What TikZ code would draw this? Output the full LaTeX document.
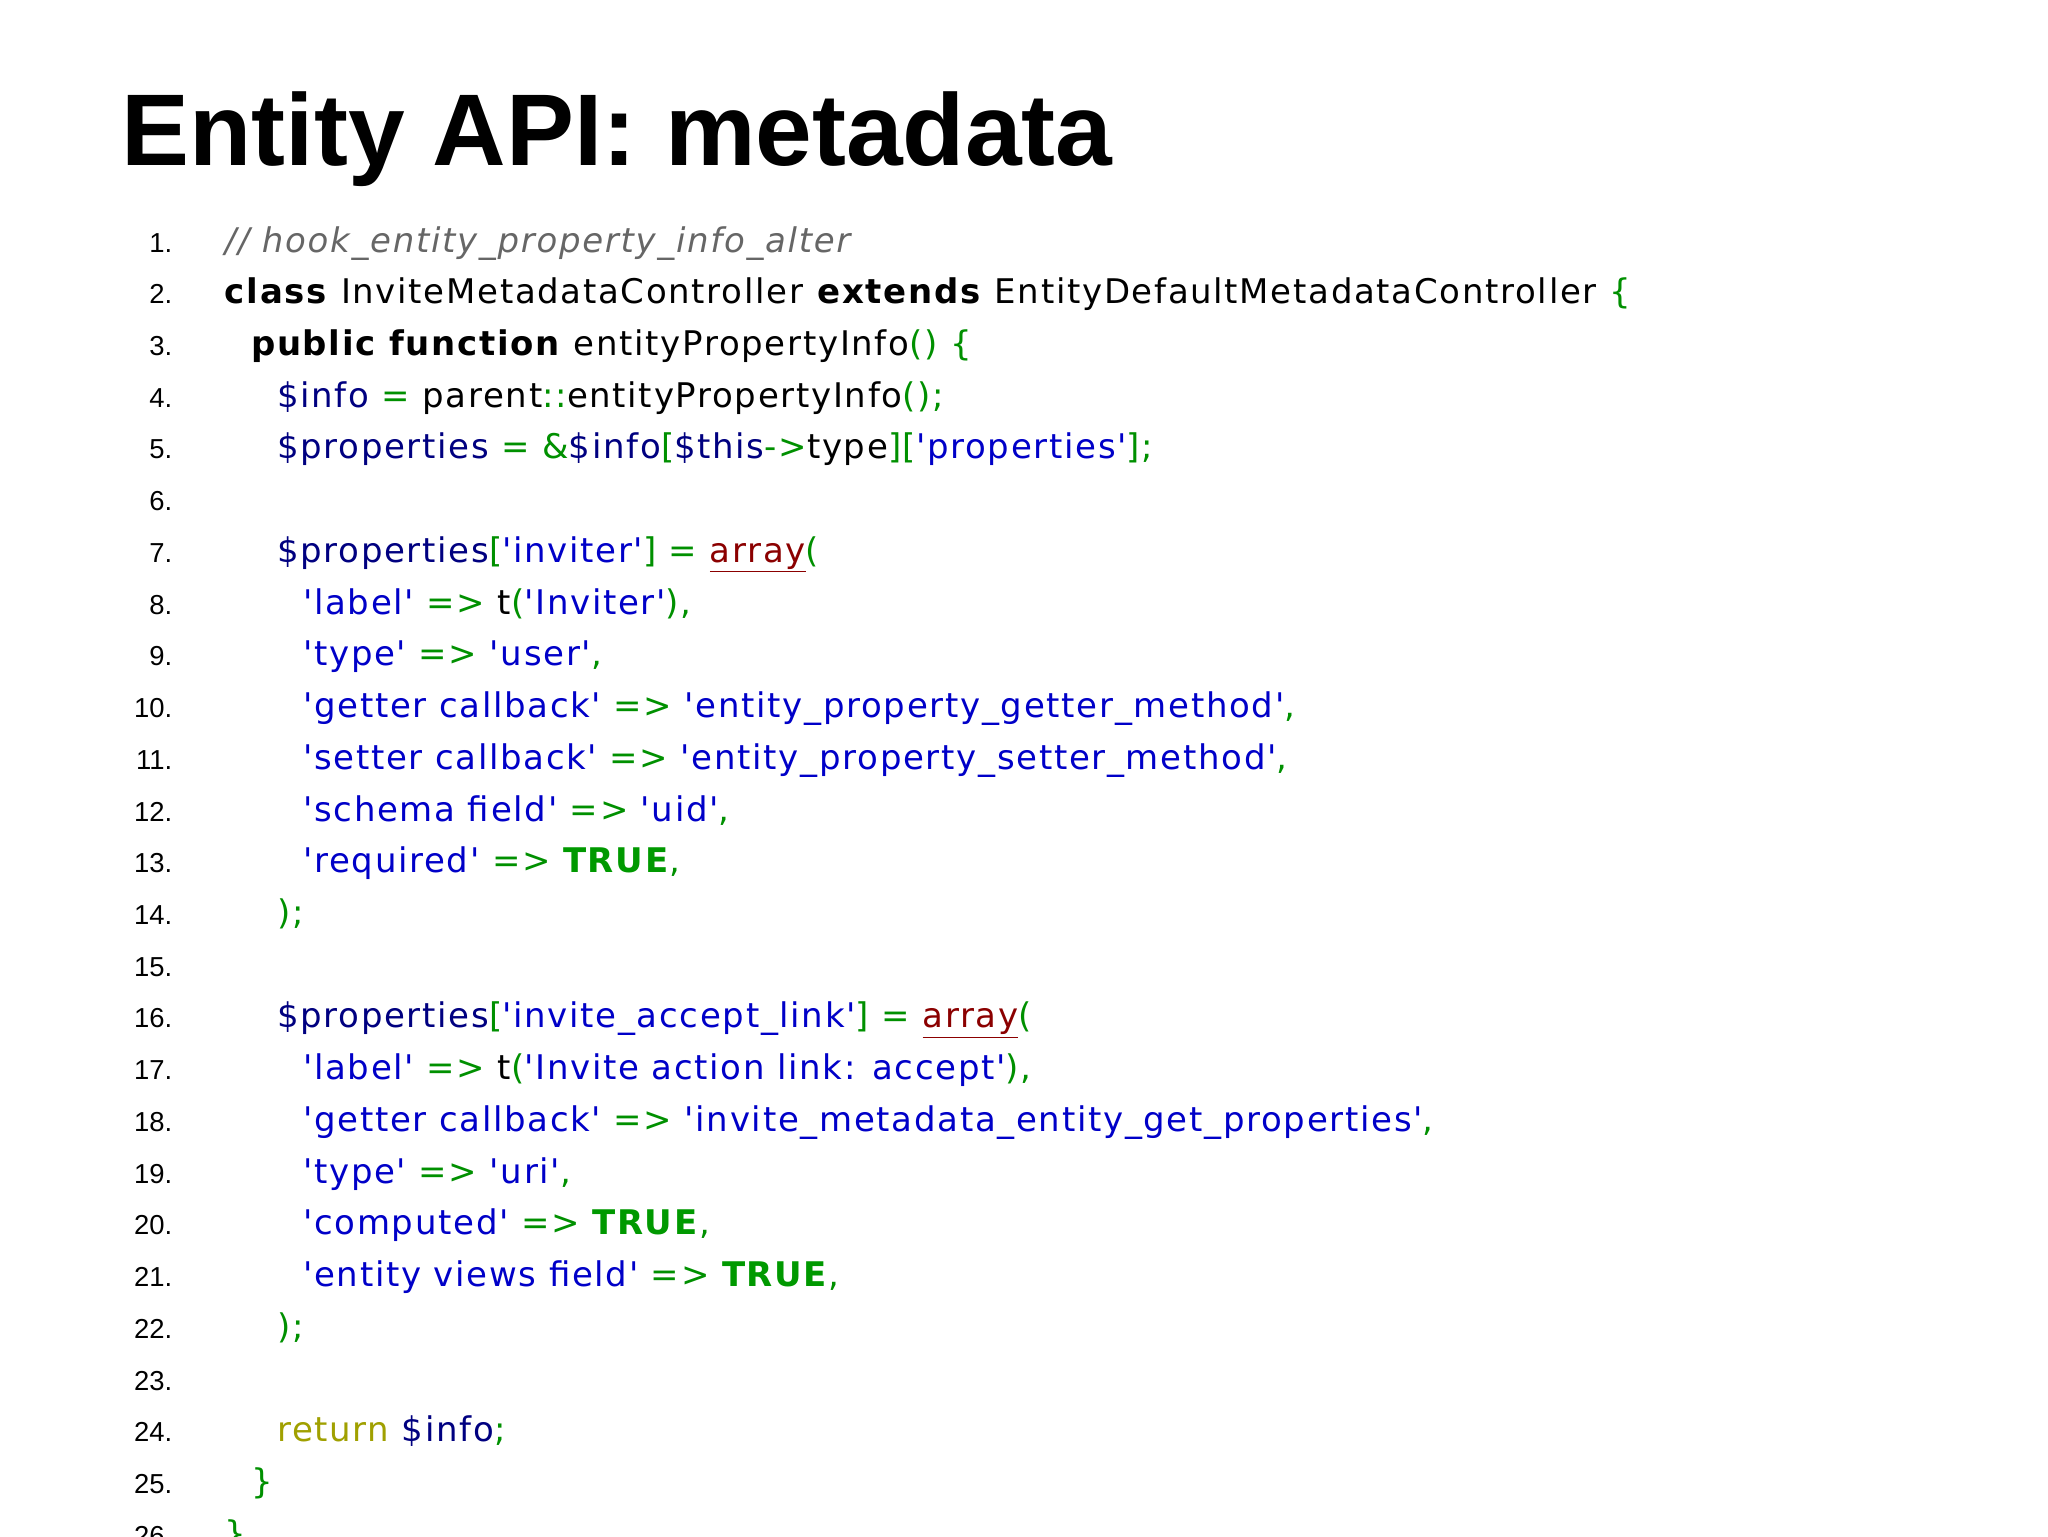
\documentclass[tikz,border=0pt]{standalone}
\usepackage{fontspec}
\setmainfont{Liberation Sans}
\newfontfamily\code{DejaVu Sans}[LetterSpace=5]
\definecolor{cv}{HTML}{000080}
\definecolor{cs}{HTML}{0000C8}
\definecolor{cp}{HTML}{009000}
\definecolor{ct}{HTML}{009900}
\definecolor{car}{HTML}{8B0000}
\definecolor{cr}{HTML}{A0A000}
\definecolor{cc}{HTML}{666666}
\newcommand\V[1]{\textcolor{cv}{#1}}
\newcommand\Ss[1]{\textcolor{cs}{#1}}
\newcommand\Pp[1]{\textcolor{cp}{#1}}
\newcommand\K[1]{\textbf{#1}}
\newcommand\Tr{\textcolor{ct}{\textbf{TRUE}}}
\newcommand\Ar{\textcolor{car}{\underline{array}}}
\begin{document}
\begin{tikzpicture}[x=1pt,y=-1pt,
  num/.style={anchor=base east,inner sep=0,font=\fontsize{21}{21}\selectfont},
  cl/.style={anchor=base west,inner sep=0,font=\code\fontsize{26}{26}\selectfont}]
\useasboundingbox (0,0) rectangle (1568,1176);
\clip (0,0) rectangle (1568,1176);
\fill[white] (0,0) rectangle (1568,1176);
\node[anchor=base west,inner sep=0,font=\bfseries\fontsize{78}{78}\selectfont] (title) at (93,127) {Entity API: metadata};
\foreach \i in {1,...,26} { \node[num] (n\i) at (132,{193+39.6*(\i-1)}) {\i.}; }
\def\Y#1{{193+39.6*(#1-1)}}
\node[cl] (l1) at (172,\Y1) {\textcolor{cc}{\itshape // hook\_entity\_property\_info\_alter}};
\node[cl] (l2) at (172,\Y2) {\K{class} InviteMetadataController \K{extends} EntityDefaultMetadataController \Pp{\{}};
\node[cl] (l3) at (192,\Y3) {\K{public function} entityPropertyInfo\Pp{() \{}};
\node[cl] (l4) at (212,\Y4) {\V{\$info} \Pp{=} parent\Pp{::}entityPropertyInfo\Pp{();}};
\node[cl] (l5) at (212,\Y5) {\V{\$properties} \Pp{= \&}\V{\$info}\Pp{[}\V{\$this}\Pp{->}type\Pp{][}\Ss{'properties'}\Pp{];}};
\node[cl] (l7) at (212,\Y7) {\V{\$properties}\Pp{[}\Ss{'inviter'}\Pp{] =} \Ar\Pp{(}};
\node[cl] (l8) at (232,\Y8) {\Ss{'label'} \Pp{=>} t\Pp{(}\Ss{'Inviter'}\Pp{),}};
\node[cl] (l9) at (232,\Y9) {\Ss{'type'} \Pp{=>} \Ss{'user'}\Pp{,}};
\node[cl] (l10) at (232,\Y{10}) {\Ss{'getter callback'} \Pp{=>} \Ss{'entity\_property\_getter\_method'}\Pp{,}};
\node[cl] (l11) at (232,\Y{11}) {\Ss{'setter callback'} \Pp{=>} \Ss{'entity\_property\_setter\_method'}\Pp{,}};
\node[cl] (l12) at (232,\Y{12}) {\Ss{'schema field'} \Pp{=>} \Ss{'uid'}\Pp{,}};
\node[cl] (l13) at (232,\Y{13}) {\Ss{'required'} \Pp{=>} \Tr\Pp{,}};
\node[cl] (l14) at (212,\Y{14}) {\Pp{);}};
\node[cl] (l16) at (212,\Y{16}) {\V{\$properties}\Pp{[}\Ss{'invite\_accept\_link'}\Pp{] =} \Ar\Pp{(}};
\node[cl] (l17) at (232,\Y{17}) {\Ss{'label'} \Pp{=>} t\Pp{(}\Ss{'Invite action link: accept'}\Pp{),}};
\node[cl] (l18) at (232,\Y{18}) {\Ss{'getter callback'} \Pp{=>} \Ss{'invite\_metadata\_entity\_get\_properties'}\Pp{,}};
\node[cl] (l19) at (232,\Y{19}) {\Ss{'type'} \Pp{=>} \Ss{'uri'}\Pp{,}};
\node[cl] (l20) at (232,\Y{20}) {\Ss{'computed'} \Pp{=>} \Tr\Pp{,}};
\node[cl] (l21) at (232,\Y{21}) {\Ss{'entity views field'} \Pp{=>} \Tr\Pp{,}};
\node[cl] (l22) at (212,\Y{22}) {\Pp{);}};
\node[cl] (l24) at (212,\Y{24}) {\textcolor{cr}{return} \V{\$info}\Pp{;}};
\node[cl] (l25) at (192,\Y{25}) {\Pp{\}}};
\node[cl] (l26) at (172,\Y{26}) {\Pp{\}}};
\end{tikzpicture}
\end{document}
